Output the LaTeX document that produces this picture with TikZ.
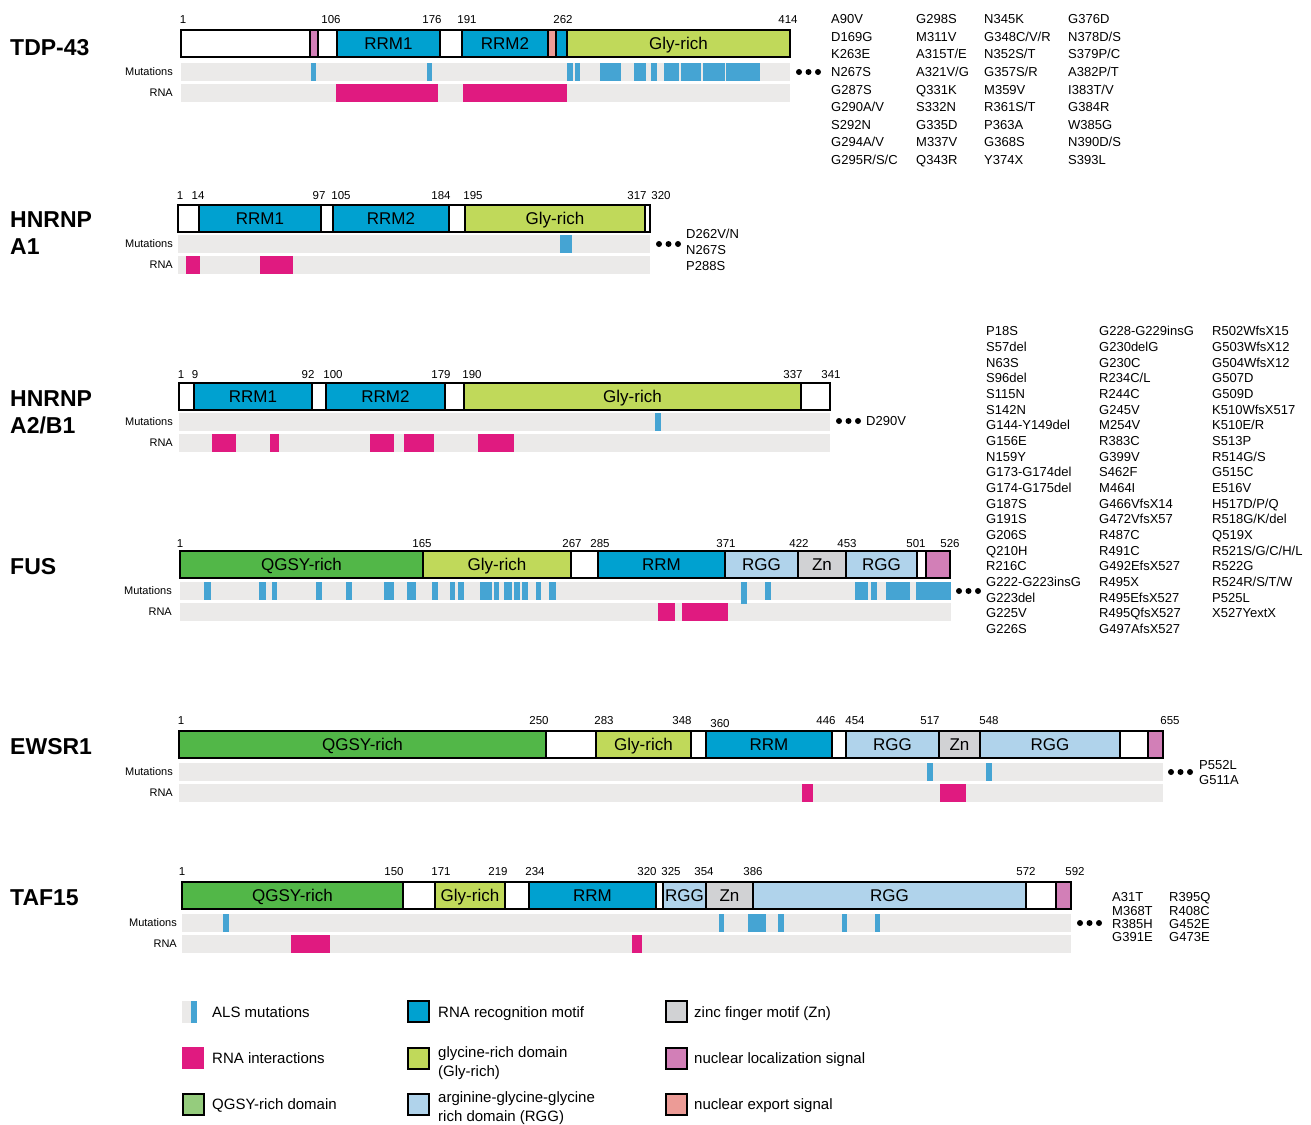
\documentclass[tikz,border=0pt]{standalone}
\usepackage{fontspec}
\setmainfont{Liberation Sans}
\usetikzlibrary{positioning}

\definecolor{rrmblue}{RGB}{0,161,208}
\definecolor{glygreen}{RGB}{192,217,90}
\definecolor{qgsygreen}{RGB}{82,183,72}
\definecolor{qgsylight}{RGB}{149,204,125}
\definecolor{rggblue}{RGB}{176,211,235}
\definecolor{zngray}{RGB}{209,210,212}
\definecolor{nlspink}{RGB}{210,127,183}
\definecolor{nessalmon}{RGB}{236,155,150}
\definecolor{mutblue}{RGB}{69,164,211}
\definecolor{rnapink}{RGB}{224,26,128}
\definecolor{trackgray}{RGB}{235,234,233}

\begin{document}
\begin{tikzpicture}[
  x=1pt, y=-1pt,
  dom/.style={draw=black, line width=1.2pt},
  outline/.style={draw=black, line width=2.6pt},
  track/.style={fill=trackgray},
  mut/.style={fill=mutblue},
  rna/.style={fill=rnapink},
  domlabel/.style={font=\fontsize{17}{17}\selectfont, inner sep=0pt, text height=12.2pt, text depth=0pt},
  posnum/.style={font=\fontsize{11.5}{11.5}\selectfont, inner sep=0pt, text height=8.3pt, text depth=0pt},
  protname/.style={font=\fontsize{23}{23}\selectfont\bfseries, anchor=west, inner sep=0pt, text height=16.5pt, text depth=0pt},
  tracklabel/.style={font=\fontsize{11}{11}\selectfont, anchor=east, inner sep=0pt, text height=7.9pt, text depth=0pt},
  mutname/.style={font=\fontsize{13}{13}\selectfont, anchor=west, inner sep=0pt, text height=9.3pt, text depth=0pt},
  legtext/.style={font=\fontsize{15}{15}\selectfont, anchor=west, inner sep=0pt, text height=10.7pt, text depth=0pt},
  legtwo/.style={font=\fontsize{15}{18.5}\selectfont, anchor=west, align=left, inner sep=0pt},
  legbox/.style={draw=black, line width=2.2pt}
]

% page size
\fill[white] (0,0) rectangle (1311,1123);

% TDP-43
\node[protname] (tdpname) at (10,47) {TDP-43};
\foreach \p/\n in {183/1,331/106,432/176,467/191,563/262,788/414}
  \node[posnum] (tdpn\n) at (\p,19) {\n};
\foreach \s/\e/\col/\lab [count=\i] in {181/310/white/,310/318/nlspink/,318/337/white/,337/440/rrmblue/RRM1,440/462/white/,462/548/rrmblue/RRM2,548/556/nessalmon/,556/567/rrmblue/,567/790/glygreen/Gly-rich}{
  \draw[dom, fill=\col] (\s,30) rectangle (\e,57);
  \node[domlabel] (tdpd\i) at ({(\s+\e)/2},43.5) {\lab};
}
\draw[outline] (181,30) rectangle (790,57);
\node[tracklabel] (tdpmutlab) at (173,72) {Mutations};
\node[tracklabel] (tdprnalab) at (173,93) {RNA};
\fill[track] (181,63) rectangle (790,81);
\fill[track] (181,84) rectangle (790,102);
\foreach \s/\e in {311/316,427/432,567/573,575/580,600/621,634/646,651/657,664/679,681/701,703/725,726/760}
  \fill[mut] (\s,63) rectangle (\e,81);
\foreach \s/\e in {336/438,463/567}
  \fill[rna] (\s,84) rectangle (\e,102);
\foreach \d in {0,9.5,19} \fill (799+\d,72) circle (3pt);
\foreach \m [count=\k from 0] in {A90V,D169G,K263E,N267S,G287S,{G290A/V},S292N,{G294A/V},{G295R/S/C}}
  \node[mutname] (tdpa\k) at (831,19+17.6*\k) {\m};
\foreach \m [count=\k from 0] in {G298S,M311V,{A315T/E},{A321V/G},Q331K,S332N,G335D,M337V,Q343R}
  \node[mutname] (tdpb\k) at (916,19+17.6*\k) {\m};
\foreach \m [count=\k from 0] in {N345K,{G348C/V/R},{N352S/T},{G357S/R},M359V,{R361S/T},P363A,G368S,Y374X}
  \node[mutname] (tdpc\k) at (984,19+17.6*\k) {\m};
\foreach \m [count=\k from 0] in {G376D,{N378D/S},{S379P/C},{A382P/T},{I383T/V},G384R,W385G,{N390D/S},S393L}
  \node[mutname] (tdpe\k) at (1068,19+17.6*\k) {\m};

% HNRNP A1
\node[protname] (aonename) at (10,219) {HNRNP};
\node[protname] (aonename2) at (10,246) {A1};
\foreach \p/\n in {180/1,198/14,319/97,341/105,441/184,473/195,637/317,661/320}
  \node[posnum] (aonen\n) at (\p,195) {\n};
\foreach \s/\e/\col/\lab [count=\i] in {178/199/white/,199/321/rrmblue/RRM1,321/333/white/,333/449/rrmblue/RRM2,449/465/white/,465/645/glygreen/Gly-rich,645/650/white/}{
  \draw[dom, fill=\col] (\s,205) rectangle (\e,232);
  \node[domlabel] (aoned\i) at ({(\s+\e)/2},218.5) {\lab};
}
\draw[outline] (178,205) rectangle (650,232);
\node[tracklabel] (aonemutlab) at (173,244) {Mutations};
\node[tracklabel] (aonernalab) at (173,265) {RNA};
\fill[track] (178,235) rectangle (650,253);
\fill[track] (178,256) rectangle (650,274);
\fill[mut] (560,235) rectangle (572,253);
\foreach \s/\e in {186/200,260/293}
  \fill[rna] (\s,256) rectangle (\e,274);
\foreach \d in {0,9.5,19} \fill (659+\d,244) circle (3pt);
\foreach \m [count=\k from 0] in {{D262V/N},N267S,P288S}
  \node[mutname] (aonea\k) at (686,234+16*\k) {\m};

% HNRNP A2/B1
\node[protname] (atwoname) at (10,398) {HNRNP};
\node[protname] (atwoname2) at (10,425) {A2/B1};
\foreach \p/\n in {181/1,195/9,308/92,333/100,441/179,472/190,793/337,831/341}
  \node[posnum] (atwon\n) at (\p,374) {\n};
\foreach \s/\e/\col/\lab [count=\i] in {179/194/white/,194/312/rrmblue/RRM1,312/326/white/,326/445/rrmblue/RRM2,445/464/white/,464/801/glygreen/Gly-rich,801/830/white/}{
  \draw[dom, fill=\col] (\s,383) rectangle (\e,410);
  \node[domlabel] (atwod\i) at ({(\s+\e)/2},396.5) {\lab};
}
\draw[outline] (179,383) rectangle (830,410);
\node[tracklabel] (atwomutlab) at (173,422) {Mutations};
\node[tracklabel] (atwornalab) at (173,443) {RNA};
\fill[track] (179,413) rectangle (830,431);
\fill[track] (179,434) rectangle (830,452);
\fill[mut] (655,413) rectangle (661,431);
\foreach \s/\e in {212/236,270/279,370/394,404/434,478/514}
  \fill[rna] (\s,434) rectangle (\e,452);
\foreach \d in {0,9.5,19} \fill (839+\d,421) circle (3pt);
\node[mutname] (atwoa0) at (866,421) {D290V};

% FUS
\node[protname] (fusname) at (10,566) {FUS};
\foreach \p/\n in {180/1,422/165,572/267,600/285,726/371,799/422,847/453,916/501,950/526}
  \node[posnum] (fusn\n) at (\p,543) {\n};
\foreach \s/\e/\col/\lab [count=\i] in {180/423/qgsygreen/QGSY-rich,423/571/glygreen/Gly-rich,571/598/white/,598/725/rrmblue/RRM,725/798/rggblue/RGG,798/846/zngray/Zn,846/917/rggblue/RGG,917/926/white/,926/950/nlspink/}{
  \draw[dom, fill=\col] (\s,551) rectangle (\e,578);
  \node[domlabel] (fusd\i) at ({(\s+\e)/2},564.5) {\lab};
}
\draw[outline] (180,551) rectangle (950,578);
\node[tracklabel] (fusmutlab) at (172,591) {Mutations};
\node[tracklabel] (fusrnalab) at (172,612) {RNA};
\fill[track] (180,582) rectangle (951,600);
\fill[track] (180,603) rectangle (951,621);
\foreach \s/\e in {204/211,259/266,272/277,316/322,346/352,384/394,407/416,432/438,450/455,458/464,480/492,494/499,504/512,514/520,522/528,536/541,549/556,765/771,855/868,871/877,886/910,916/951}
  \fill[mut] (\s,582) rectangle (\e,600);
\fill[mut] (741,582) rectangle (747,604);
\foreach \s/\e in {658/675,682/728}
  \fill[rna] (\s,603) rectangle (\e,621);
\foreach \d in {0,9.5,19} \fill (959+\d,591) circle (3pt);
\foreach \m [count=\k from 0] in {P18S,S57del,N63S,S96del,S115N,S142N,G144-Y149del,G156E,N159Y,G173-G174del,G174-G175del,G187S,G191S,G206S,Q210H,R216C,G222-G223insG,G223del,G225V,G226S}
  \node[mutname] (fusa\k) at (986,331+15.68*\k) {\m};
\foreach \m [count=\k from 0] in {G228-G229insG,G230delG,G230C,{R234C/L},R244C,G245V,M254V,R383C,G399V,S462F,M464I,G466VfsX14,G472VfsX57,R487C,R491C,G492EfsX527,R495X,R495EfsX527,R495QfsX527,G497AfsX527}
  \node[mutname] (fusb\k) at (1099,331+15.68*\k) {\m};
\foreach \m [count=\k from 0] in {R502WfsX15,G503WfsX12,G504WfsX12,G507D,G509D,K510WfsX517,{K510E/R},S513P,{R514G/S},G515C,E516V,{H517D/P/Q},{R518G/K/del},Q519X,{R521S/G/C/H/L},R522G,{R524R/S/T/W},P525L,X527YextX}
  \node[mutname] (fusc\k) at (1212,331+15.68*\k) {\m};

% EWSR1
\node[protname] (ewsname) at (10,746) {EWSR1};
\foreach \p/\n in {181/1,539/250,604/283,682/348,826/446,855/454,930/517,989/548,1170/655}
  \node[posnum] (ewsn\n) at (\p,720) {\n};
\node[posnum] (ewsn360) at (720,723) {360};
\foreach \s/\e/\col/\lab [count=\i] in {179/546/qgsygreen/QGSY-rich,546/596/white/,596/691/glygreen/Gly-rich,691/706/white/,706/832/rrmblue/RRM,832/846/white/,846/939/rggblue/RGG,939/980/zngray/Zn,980/1120/rggblue/RGG,1120/1148/white/,1148/1163/nlspink/}{
  \draw[dom, fill=\col] (\s,731) rectangle (\e,758);
  \node[domlabel] (ewsd\i) at ({(\s+\e)/2},744.5) {\lab};
}
\draw[outline] (179,731) rectangle (1163,758);
\node[tracklabel] (ewsmutlab) at (173,772) {Mutations};
\node[tracklabel] (ewsrnalab) at (173,793) {RNA};
\fill[track] (179,763) rectangle (1163,781);
\fill[track] (179,784) rectangle (1163,802);
\foreach \s/\e in {927/933,986/992}
  \fill[mut] (\s,763) rectangle (\e,781);
\foreach \s/\e in {802/813,940/966}
  \fill[rna] (\s,784) rectangle (\e,802);
\foreach \d in {0,9.5,19} \fill (1171+\d,772) circle (3pt);
\node[mutname] (ewsa0) at (1199,765) {P552L};
\node[mutname] (ewsa1) at (1199,780) {G511A};

% TAF15
\node[protname] (tafname) at (10,897) {TAF15};
\foreach \p/\n in {182/1,394/150,441/171,498/219,535/234,647/320,671/325,704/354,753/386,1026/572,1075/592}
  \node[posnum] (tafn\n) at (\p,871) {\n};
\foreach \s/\e/\col/\lab [count=\i] in {182/403/qgsygreen/QGSY-rich,403/435/white/,435/505/glygreen/Gly-rich,505/529/white/,529/656/rrmblue/RRM,656/663/white/,663/706/rggblue/RGG,706/753/zngray/Zn,753/1026/rggblue/RGG,1026/1056/white/,1056/1071/nlspink/}{
  \draw[dom, fill=\col] (\s,882) rectangle (\e,909);
  \node[domlabel] (tafd\i) at ({(\s+\e)/2},895.5) {\lab};
}
\draw[outline] (182,882) rectangle (1071,909);
\node[tracklabel] (tafmutlab) at (177,923) {Mutations};
\node[tracklabel] (tafrnalab) at (177,944) {RNA};
\fill[track] (182,914) rectangle (1071,932);
\fill[track] (182,935) rectangle (1071,953);
\foreach \s/\e in {223/229,719/724,748/766,778/784,842/847,875/880}
  \fill[mut] (\s,914) rectangle (\e,932);
\foreach \s/\e in {291/330,632/642}
  \fill[rna] (\s,935) rectangle (\e,953);
\foreach \d in {0,9.5,19} \fill (1080+\d,923) circle (3pt);
\foreach \m [count=\k from 0] in {A31T,M368T,R385H,G391E}
  \node[mutname] (tafa\k) at (1112,897+13.4*\k) {\m};
\foreach \m [count=\k from 0] in {R395Q,R408C,G452E,G473E}
  \node[mutname] (tafb\k) at (1169,897+13.4*\k) {\m};

% legend
\fill[trackgray] (182,1001) rectangle (191,1023);
\fill[mutblue] (191,1001) rectangle (197,1023);
\node[legtext] (legals) at (212,1012) {ALS mutations};
\fill[rnapink] (182,1047) rectangle (204,1069);
\node[legtext] (legrna) at (212,1058) {RNA interactions};
\draw[legbox, fill=qgsylight] (183,1094) rectangle (204,1115);
\node[legtext] (legqgsy) at (212,1104) {QGSY-rich domain};
\draw[legbox, fill=rrmblue] (408,1001) rectangle (429,1022);
\node[legtext] (legrrm) at (438,1012) {RNA recognition motif};
\draw[legbox, fill=glygreen] (408,1048) rectangle (429,1069);
\node[legtwo] (leggly) at (438,1063) {glycine-rich domain\\(Gly-rich)};
\draw[legbox, fill=rggblue] (408,1094) rectangle (429,1115);
\node[legtwo] (legrgg) at (438,1108) {arginine-glycine-glycine\\rich domain (RGG)};
\draw[legbox, fill=zngray] (666,1001) rectangle (687,1022);
\node[legtext] (legzn) at (694,1012) {zinc finger motif (Zn)};
\draw[legbox, fill=nlspink] (666,1048) rectangle (687,1069);
\node[legtext] (legnls) at (694,1058) {nuclear localization signal};
\draw[legbox, fill=nessalmon] (666,1094) rectangle (687,1115);
\node[legtext] (legnes) at (694,1104) {nuclear export signal};

\end{tikzpicture}
\end{document}
